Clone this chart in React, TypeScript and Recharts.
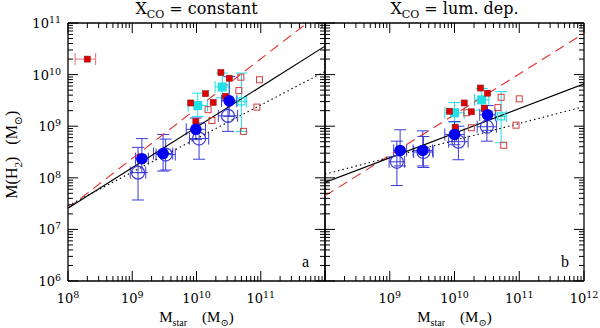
import { ScatterChart, Scatter, XAxis, YAxis, ErrorBar } from "recharts";

// all values are log10 (M_star and M(H2) in solar masses)
const xMajor = [8, 9, 10, 11, 12];
const yMajor = [6, 7, 8, 9, 10, 11];
const xLabelsA = [8, 9, 10, 11];
const xLabelsB = [9, 10, 11, 12];

// panel a: X_CO = constant
const blueA_x = [9.15, 9.48, 9.99, 10.51];
const blueA_y = [8.37, 8.47, 8.94, 9.49];
const blueA_xerr = [0.1, 0.15, 0.15, 0.12];
const blueA_yup = [0.39, 0.37, 0.22, 0.47];
const blueA_ydn = [0.27, 0.34, 0.2, 0.3];

const openA_x = [9.09, 9.52, 10.04, 10.49];
const openA_y = [8.1, 8.45, 8.76, 9.2];
const openA_xerr = [0.12, 0.15, 0.15, 0.15];
const openA_yup = [0.49, 0.3, 0.3, 0.3];
const openA_ydn = [0.53, 0.3, 0.4, 0.3];

const cyanA_x = [10.02, 10.4];
const cyanA_y = [9.4, 9.76];
const cyanA_xerr = [0.15, 0.11];
const cyanA_yup = [0.24, 0.27];
const cyanA_ydn = [0.21, 0.21];

const cyanOpenA_x = [10.7];
const cyanOpenA_y = [9.48];
const cyanOpenA_xerr = [0.08];
const cyanOpenA_yup = [0.55];
const cyanOpenA_ydn = [0.58];

const redA_x = [10.38, 10.51, 10.14, 10.26, 9.91, 9.99, 10.45];
const redA_y = [10.04, 9.93, 9.63, 9.46, 9.45, 9.09, 9.58];

const redOpenA_x = [10.69, 10.98, 10.66, 10.18, 10.24, 10.94, 10.73];
const redOpenA_y = [9.95, 9.9, 9.69, 9.32, 9.11, 9.37, 8.9];

const outlier_x = [8.3];
const outlier_y = [10.3];
const outlier_xerr = [[0.19, 0.13]];

const fitA_x = [8, 12];
const fitA_solid = [7.41, 10.55];
const fitA_dot = [7.46, 10.06];
const dashA_x = [8, 11.72];
const dashA_y = [7.41, 11.0];

// panel b: X_CO = lum. dep.
const blueB_x = [9.16, 9.51, 10.0, 10.51];
const blueB_y = [8.53, 8.53, 8.84, 9.22];
const blueB_xerr = [0.1, 0.15, 0.15, 0.12];
const blueB_yup = [0.4, 0.38, 0.25, 0.18];
const blueB_ydn = [0.3, 0.3, 0.2, 0.3];

const openB_x = [9.11, 9.52, 10.06, 10.5];
const openB_y = [8.31, 8.5, 8.7, 8.99];
const openB_xerr = [0.12, 0.15, 0.15, 0.15];
const openB_yup = [0.4, 0.3, 0.3, 0.3];
const openB_ydn = [0.46, 0.3, 0.35, 0.28];

const cyanB_x = [10.0, 10.42];
const cyanB_y = [9.26, 9.51];
const cyanB_xerr = [0.15, 0.11];
const cyanB_yup = [0.2, 0.22];
const cyanB_ydn = [0.18, 0.2];

const cyanOpenB_x = [10.72];
const cyanOpenB_y = [9.19];
const cyanOpenB_xerr = [0.08];
const cyanOpenB_yup = [0.48];
const cyanOpenB_ydn = [0.51];

const redB_x = [10.4, 10.51, 10.15, 10.26, 9.92, 10.01, 10.46];
const redB_y = [9.74, 9.64, 9.45, 9.28, 9.29, 8.98, 9.35];

const redOpenB_x = [10.72, 11.0, 10.67, 10.19, 10.26, 10.95, 10.76];
const redOpenB_y = [9.56, 9.53, 9.36, 9.26, 8.97, 9.02, 8.63];

const fitB_x = [8, 12];
const fitB_solid = [7.91, 9.82];
const fitB_dot = [8.07, 9.38];
const fitB_dash = [7.65, 10.8];

const withTicks = (majors: number[]) => {
  const out: number[] = [];
  majors.forEach((m, i) => {
    if (i === majors.length - 1) return out.push(m);
    for (let k = 1; k <= 9; k++) out.push(m + Math.log10(k));
  });
  return out;
};

const pts = (xs: number[], ys: number[], ex?: any[], yup?: number[], ydn?: number[]) =>
  xs.map((x, i) => ({
    x,
    y: ys[i],
    ex: ex ? (Array.isArray(ex[i]) ? ex[i] : [ex[i], ex[i]]) : undefined,
    ey: yup && ydn ? [ydn[i], yup[i]] : undefined,
  }));

const SERIF = "'Liberation Serif', 'DejaVu Serif', serif";
const DSERIF = "'DejaVu Serif', serif";
const BLUE = "#0000f0";
const BLUE_ERR = "#3c3cd8";
const CYAN = "#22e0e6";
const RED = "#e00000";
const RED_OPEN = "#d23c3c";

const isMajor = (v: number) => Math.abs(v - Math.round(v)) < 1e-6;

const Pow = ({ x, y, n, anchor }: any) => (
  <text x={x} y={y} textAnchor={anchor} fontFamily={DSERIF} fontSize={13} fill="#000" stroke="none">
    10<tspan fontSize={9.5} dy={-5}>{n}</tspan>
  </text>
);

const makeTick = (side: string, labels: number[]) => (props: any) => {
  const { x, y, payload } = props;
  const v = payload.value;
  const major = isMajor(v);
  const len = major ? 10 : 5;
  let ln: any;
  if (side === "bottom") ln = <line x1={x} y1={y} x2={x} y2={y - len} />;
  else if (side === "top") ln = <line x1={x} y1={y} x2={x} y2={y + len} />;
  else if (side === "left") ln = <line x1={x} y1={y} x2={x + len} y2={y} />;
  else ln = <line x1={x} y1={y} x2={x - len} y2={y} />;
  const n = Math.round(v);
  const show = major && labels.includes(n);
  return (
    <g stroke="#000" strokeWidth={1}>
      {ln}
      {show && side === "bottom" && <Pow x={x} y={y + 22} n={n} anchor="middle" />}
      {show && side === "left" && <Pow x={x - 7} y={y + 5} n={n} anchor="end" />}
    </g>
  );
};

const NoShape = () => <g />;
const FilledCircle = (p: any) => <circle cx={p.cx} cy={p.cy} r={5.8} fill={BLUE} />;
const OpenCircle = (p: any) => <circle cx={p.cx} cy={p.cy} r={6.5} fill="none" stroke={BLUE_ERR} strokeWidth={1.2} />;
const CyanSquare = (p: any) => <rect x={p.cx - 4.5} y={p.cy - 4.5} width={9} height={9} fill={CYAN} />;
const CyanOpen = (p: any) => <rect x={p.cx - 3.5} y={p.cy - 3.5} width={7} height={7} fill="none" stroke={CYAN} strokeWidth={1.2} />;
const RedSquare = (p: any) => <rect x={p.cx - 3} y={p.cy - 3} width={6} height={6} fill={RED} stroke="#8a1a1a" strokeWidth={0.6} />;
const RedOpen = (p: any) => <rect x={p.cx - 3} y={p.cy - 3} width={6} height={6} fill="none" stroke={RED_OPEN} strokeWidth={1} />;

function Panel(props: any) {
  const { left, right, labelsX, labelsY, series, lines } = props;
  const xt = withTicks(xMajor);
  const yt = withTicks(yMajor);
  const axisCommon = { type: "number" as const, allowDataOverflow: true, tickSize: 0, tickMargin: 0, tickLine: false, interval: 0 as const, axisLine: { stroke: "#000", strokeWidth: 1.3 } };
  return (
    <div style={{ position: "absolute", left: 0, top: 0 }}>
      <ScatterChart width={600} height={328} margin={{ top: 22, bottom: 46, left: left - 1, right: right - 1 }}>
        <XAxis xAxisId="b" dataKey="x" orientation="bottom" height={1} domain={[8, 12]} ticks={xt} tick={makeTick("bottom", labelsX)} {...axisCommon} />
        <XAxis xAxisId="t" dataKey="x" orientation="top" height={1} domain={[8, 12]} ticks={xt} tick={makeTick("top", [])} {...axisCommon} />
        <YAxis yAxisId="l" dataKey="y" orientation="left" width={1} domain={[6, 11]} ticks={yt} tick={makeTick("left", labelsY)} {...axisCommon} />
        <YAxis yAxisId="r" dataKey="y" orientation="right" width={1} domain={[6, 11]} ticks={yt} tick={makeTick("right", [])} {...axisCommon} />
        {lines.map((l: any, i: number) => (
          <Scatter key={"l" + i} xAxisId="b" yAxisId="l" data={pts(l.x, l.y)} shape={NoShape} line={{ stroke: l.color, strokeWidth: 1.1, strokeDasharray: l.dash }} isAnimationActive={false} />
        ))}
        {series.map((s: any, i: number) => (
          <Scatter key={"s" + i} xAxisId="b" yAxisId="l" data={s.data} shape={s.shape} isAnimationActive={false}>
            {s.err && <ErrorBar dataKey="ex" direction="x" width={6} stroke={s.err} strokeWidth={1} />}
            {s.err && s.yerr !== false && <ErrorBar dataKey="ey" direction="y" width={6} stroke={s.err} strokeWidth={1} />}
          </Scatter>
        ))}
      </ScatterChart>
    </div>
  );
}

const seriesA = [
  { data: pts(redOpenA_x, redOpenA_y), shape: RedOpen },
  { data: pts(outlier_x, outlier_y, outlier_xerr), shape: RedSquare, err: "#e07070", yerr: false },
  { data: pts(cyanOpenA_x, cyanOpenA_y, cyanOpenA_xerr, cyanOpenA_yup, cyanOpenA_ydn), shape: CyanOpen, err: CYAN },
  { data: pts(cyanA_x, cyanA_y, cyanA_xerr, cyanA_yup, cyanA_ydn), shape: CyanSquare, err: CYAN },
  { data: pts(redA_x, redA_y), shape: RedSquare },
  { data: pts(openA_x, openA_y, openA_xerr, openA_yup, openA_ydn), shape: OpenCircle, err: BLUE_ERR },
  { data: pts(blueA_x, blueA_y, blueA_xerr, blueA_yup, blueA_ydn), shape: FilledCircle, err: BLUE_ERR },
];
const seriesB = [
  { data: pts(redOpenB_x, redOpenB_y), shape: RedOpen },
  { data: pts(cyanOpenB_x, cyanOpenB_y, cyanOpenB_xerr, cyanOpenB_yup, cyanOpenB_ydn), shape: CyanOpen, err: CYAN },
  { data: pts(cyanB_x, cyanB_y, cyanB_xerr, cyanB_yup, cyanB_ydn), shape: CyanSquare, err: CYAN },
  { data: pts(redB_x, redB_y), shape: RedSquare },
  { data: pts(openB_x, openB_y, openB_xerr, openB_yup, openB_ydn), shape: OpenCircle, err: BLUE_ERR },
  { data: pts(blueB_x, blueB_y, blueB_xerr, blueB_yup, blueB_ydn), shape: FilledCircle, err: BLUE_ERR },
];
const linesA = [
  { x: dashA_x, y: dashA_y, color: "#e03030", dash: "10 6" },
  { x: fitA_x, y: fitA_dot, color: "#000", dash: "1.5 3" },
  { x: fitA_x, y: fitA_solid, color: "#000" },
];
const linesB = [
  { x: fitB_x, y: fitB_dash, color: "#e03030", dash: "10 6" },
  { x: fitB_x, y: fitB_dot, color: "#000", dash: "1.5 3" },
  { x: fitB_x, y: fitB_solid, color: "#000" },
];

const XLabel = ({ left, width }: any) => (
  <div style={{ position: "absolute", left, width, top: 309, textAlign: "center", fontFamily: SERIF, fontSize: 15, whiteSpace: "pre" }}>
    M<sub style={{ fontSize: 10 }}>star</sub>{"    "}(M<sub style={{ fontSize: 10 }}>⊙</sub>)
  </div>
);

export default function App() {
  return (
    <div style={{ position: "absolute", left: 0, top: 0, width: 600, height: 328, background: "#fff", overflow: "hidden" }}>
      <Panel left={68} right={275} labelsX={xLabelsA} labelsY={yMajor} series={seriesA} lines={linesA} />
      <Panel left={325} right={16} labelsX={xLabelsB} labelsY={[]} series={seriesB} lines={linesB} />
      <div style={{ position: "absolute", left: 68, width: 257, top: 0, textAlign: "center", fontFamily: DSERIF, fontSize: 16, lineHeight: "17px" }}>
        X<sub style={{ fontSize: 11 }}>CO</sub> = constant
      </div>
      <div style={{ position: "absolute", left: 325, width: 259, top: 0, textAlign: "center", fontFamily: DSERIF, fontSize: 16, lineHeight: "17px" }}>
        X<sub style={{ fontSize: 11 }}>CO</sub> = lum. dep.
      </div>
      <XLabel left={68} width={257} />
      <XLabel left={325} width={259} />
      <div style={{ position: "absolute", left: -46, top: 144, width: 120, textAlign: "center", transform: "rotate(-90deg)", fontFamily: SERIF, fontSize: 16, whiteSpace: "pre" }}>
        M(H<sub style={{ fontSize: 11 }}>2</sub>){"   "}(M<sub style={{ fontSize: 11 }}>⊙</sub>)
      </div>
      <div style={{ position: "absolute", left: 302, top: 253, fontFamily: SERIF, fontSize: 16 }}>a</div>
      <div style={{ position: "absolute", left: 561, top: 253, fontFamily: SERIF, fontSize: 16 }}>b</div>
    </div>
  );
}
